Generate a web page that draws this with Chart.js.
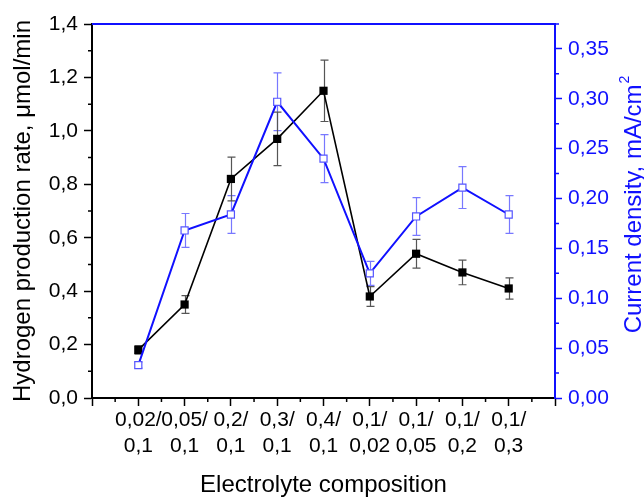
<!DOCTYPE html>
<html>
<head>
<meta charset="utf-8">
<script src="https://cdn.jsdelivr.net/npm/chart.js@4.4.1/dist/chart.umd.min.js"></script>
<style>
  html, body { margin: 0; padding: 0; background: #fff; }
  #wrap { width: 644px; height: 497px; }
</style>
</head>
<body>
<div id="wrap"><canvas id="chart" width="644" height="497"></canvas></div>
<script>
// Electrolyte compositions (two-line tick labels)
const compositions = [
  ['0,02/', '0,1'], ['0,05/', '0,1'], ['0,2/', '0,1'], ['0,3/', '0,1'], ['0,4/', '0,1'],
  ['0,1/', '0,02'], ['0,1/', '0,05'], ['0,1/', '0,2'], ['0,1/', '0,3']
];

// Hydrogen production rate, umol/min
const h2Rate = [0.18, 0.35, 0.82, 0.97, 1.15, 0.38, 0.54, 0.47, 0.41];
const h2RateErr = [0.016, 0.033, 0.082, 0.10, 0.115, 0.037, 0.054, 0.046, 0.04];

// Current density, mA/cm2
const currentDensity = [0.033, 0.168, 0.184, 0.297, 0.240, 0.125, 0.182, 0.211, 0.184];
const currentDensityErr = [0.003, 0.017, 0.019, 0.029, 0.024, 0.012, 0.019, 0.021, 0.019];

const FONT = '"Liberation Sans", Arial, sans-serif';
const BLUE = '#1010ff';

const fmt = (v, d) => v.toFixed(d).replace('.', ',');
const toPoints = vals => vals.map((v, i) => ({ x: i + 1, y: v }));

// Vertical error bars with caps, drawn under the markers
const errorBars = {
  id: 'errorBars',
  beforeDatasetsDraw(chart) {
    const ctx = chart.ctx;
    const xScale = chart.scales.x;
    chart.data.datasets.forEach(ds => {
      if (!ds.errors) return;
      const yScale = chart.scales[ds.yAxisID];
      ctx.save();
      ctx.strokeStyle = ds.errorColor;
      ctx.lineWidth = 1.2;
      ds.data.forEach((pt, j) => {
        const x = Math.round(xScale.getPixelForValue(pt.x)) + 0.5;
        const top = yScale.getPixelForValue(pt.y + ds.errors[j]);
        const bot = yScale.getPixelForValue(pt.y - ds.errors[j]);
        ctx.beginPath();
        ctx.moveTo(x, top); ctx.lineTo(x, bot);
        ctx.moveTo(x - 4, top); ctx.lineTo(x + 4, top);
        ctx.moveTo(x - 4, bot); ctx.lineTo(x + 4, bot);
        ctx.stroke();
      });
      ctx.restore();
    });
  }
};

// Minor ticks, blue top frame line and the right-hand axis title
const axisExtras = {
  id: 'axisExtras',
  afterDraw(chart) {
    const ctx = chart.ctx;
    const { x, y, y1 } = chart.scales;
    const area = chart.chartArea;
    ctx.save();
    ctx.lineWidth = 1.5;

    ctx.strokeStyle = '#000';
    ctx.beginPath();
    for (let v = 0.5; v < 10; v += 1) {
      const px = x.getPixelForValue(v);
      ctx.moveTo(px, area.bottom); ctx.lineTo(px, area.bottom + 4);
    }
    for (let v = 0.1; v < 1.4; v += 0.2) {
      const py = y.getPixelForValue(v);
      ctx.moveTo(area.left - 4, py); ctx.lineTo(area.left, py);
    }
    ctx.stroke();

    ctx.strokeStyle = BLUE;
    ctx.beginPath();
    for (let v = 0.025; v < 0.375; v += 0.05) {
      const py = y1.getPixelForValue(v);
      ctx.moveTo(area.right, py); ctx.lineTo(area.right + 4, py);
    }
    ctx.stroke();

    ctx.lineWidth = 2;
    ctx.beginPath();
    ctx.moveTo(area.left, area.top);
    ctx.lineTo(area.right, area.top);
    ctx.stroke();

    // "Current density, mA/cm²" reading bottom to top
    const main = 'Current density, mA/cm';
    ctx.fillStyle = BLUE;
    ctx.font = '24px ' + FONT;
    const w1 = ctx.measureText(main).width;
    ctx.font = '14px ' + FONT;
    const w2 = ctx.measureText('2').width;
    ctx.translate(634, (area.top + area.bottom) / 2 - 6);
    ctx.rotate(-Math.PI / 2);
    ctx.textBaseline = 'middle';
    ctx.textAlign = 'left';
    const start = -(w1 + w2) / 2;
    ctx.font = '24px ' + FONT;
    ctx.fillText(main, start, 0);
    ctx.font = '14px ' + FONT;
    ctx.fillText('2', start + w1 + 1, -9);
    ctx.restore();
  }
};

new Chart(document.getElementById('chart'), {
  type: 'line',
  data: {
    datasets: [
      {
        label: 'Current density',
        data: toPoints(currentDensity),
        errors: currentDensityErr,
        errorColor: '#7878ff',
        yAxisID: 'y1',
        borderColor: BLUE,
        borderWidth: 2,
        pointStyle: 'rect',
        pointRadius: 5,
        pointBorderWidth: 1.2,
        pointBorderColor: '#5555ff',
        pointBackgroundColor: '#fff',
        tension: 0,
        order: 0
      },
      {
        label: 'Hydrogen production rate',
        data: toPoints(h2Rate),
        errors: h2RateErr,
        errorColor: '#555',
        yAxisID: 'y',
        borderColor: '#000',
        borderWidth: 1.6,
        pointStyle: 'rect',
        pointRadius: 5.8,
        pointBorderWidth: 0,
        pointBackgroundColor: '#000',
        tension: 0,
        order: 1
      }
    ]
  },
  options: {
    responsive: false,
    animation: false,
    events: [],
    layout: { padding: { top: 24, left: 0, right: 0, bottom: 0 } },
    plugins: {
      legend: { display: false },
      tooltip: { enabled: false }
    },
    scales: {
      x: {
        type: 'linear',
        min: 0,
        max: 10,
        afterFit: s => { s.height = 99; },
        border: { color: '#000', width: 2 },
        grid: { drawOnChartArea: false, tickLength: 8, tickColor: '#000', tickWidth: 1.5 },
        ticks: {
          stepSize: 1,
          autoSkip: false,
          maxRotation: 0,
          padding: 2,
          color: '#000',
          font: { family: FONT, size: 21, lineHeight: 1.2 },
          callback: v => compositions[v - 1] || ''
        },
        title: {
          display: true,
          text: 'Electrolyte composition',
          color: '#000',
          font: { family: FONT, size: 24, lineHeight: 1 },
          padding: { top: 0, bottom: 0 }
        }
      },
      y: {
        position: 'left',
        min: 0,
        max: 1.4,
        afterFit: s => { s.width = 92; },
        border: { color: '#000', width: 2 },
        grid: { drawOnChartArea: false, tickLength: 8, tickColor: '#000', tickWidth: 1.5 },
        ticks: {
          stepSize: 0.2,
          padding: 6,
          color: '#000',
          font: { family: FONT, size: 21 },
          callback: v => fmt(v, 1)
        },
        title: {
          display: true,
          text: 'Hydrogen production rate, μmol/min',
          color: '#000',
          font: { family: FONT, size: 24, lineHeight: 1 },
          padding: { top: 11, bottom: 0 }
        }
      },
      y1: {
        position: 'right',
        min: 0,
        max: 0.375,
        afterFit: s => { s.width = 89; },
        border: { color: BLUE, width: 2 },
        grid: { drawOnChartArea: false, tickLength: 7, tickColor: BLUE, tickWidth: 1.5 },
        ticks: {
          stepSize: 0.05,
          includeBounds: false,
          padding: 6,
          color: BLUE,
          font: { family: FONT, size: 21 },
          callback: v => fmt(v, 2)
        }
      }
    }
  },
  plugins: [errorBars, axisExtras]
});
</script>
</body>
</html>
